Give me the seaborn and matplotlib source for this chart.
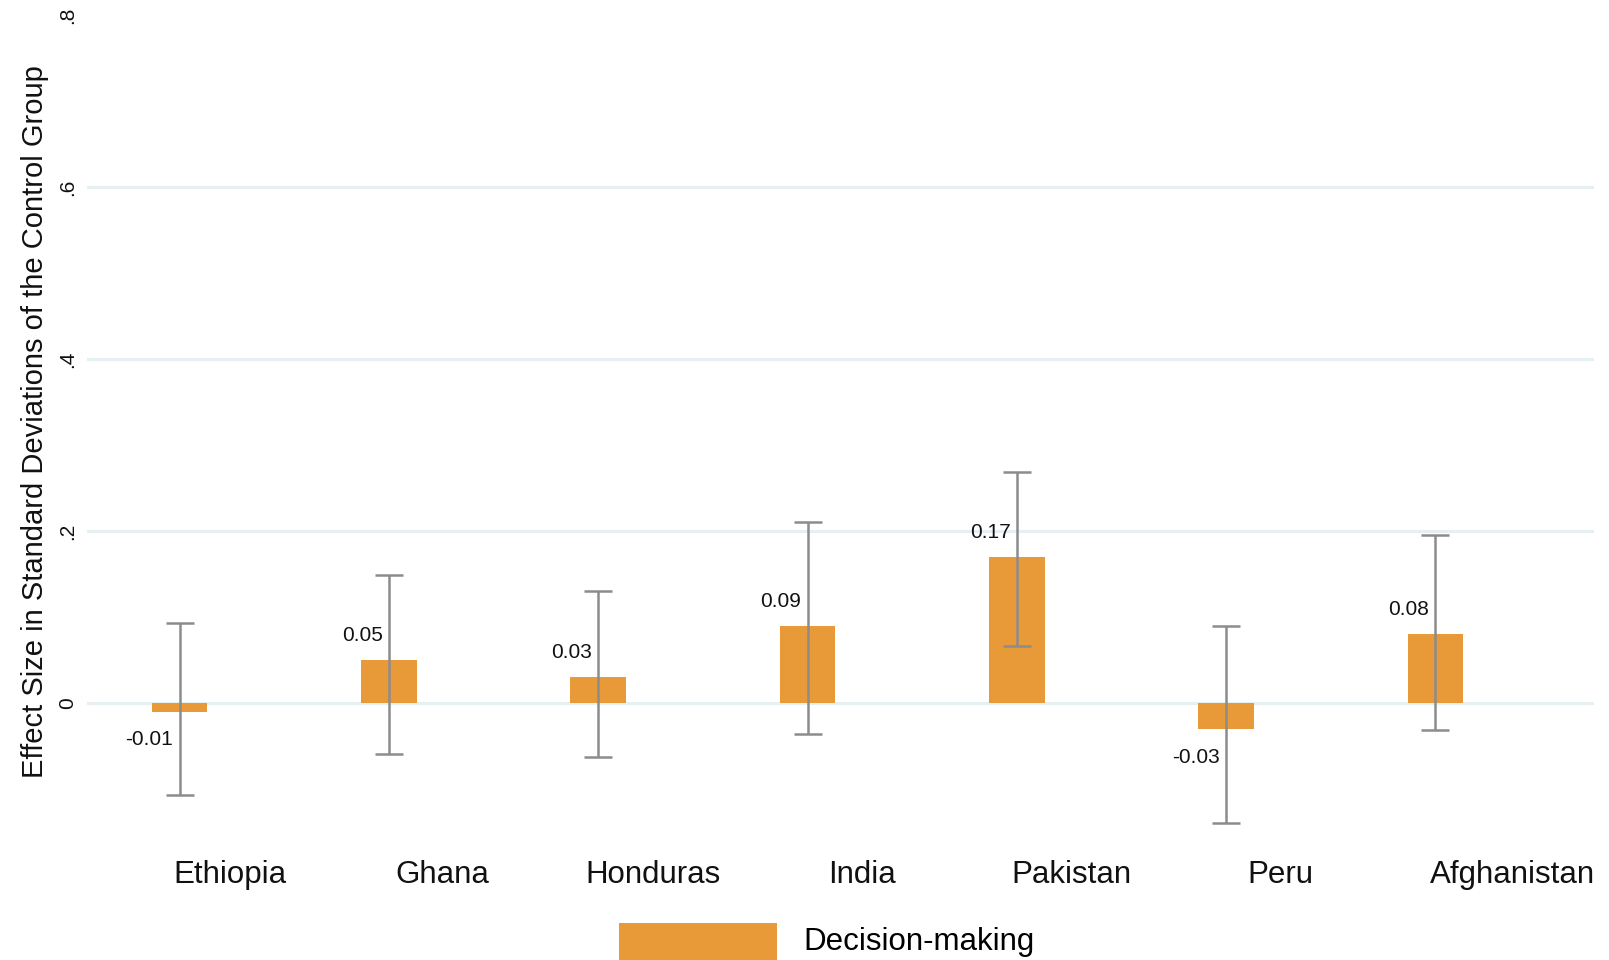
import matplotlib
matplotlib.use("Agg")
import matplotlib.pyplot as plt
from matplotlib.patches import Patch, Rectangle
from matplotlib.legend_handler import HandlerPatch
import seaborn as sns
import pandas as pd

# Country-level treatment effects on the decision-making index
countries = ["Ethiopia", "Ghana", "Honduras", "India", "Pakistan", "Peru", "Afghanistan"]
effect = [-0.01, 0.05, 0.03, 0.09, 0.17, -0.03, 0.08]
ci_low = [-0.107, -0.059, -0.063, -0.036, 0.066, -0.140, -0.031]
ci_high = [0.093, 0.149, 0.130, 0.210, 0.269, 0.089, 0.195]
y_ticks = [0, 0.2, 0.4, 0.6, 0.8]
y_tick_labels = ["0", ".2", ".4", ".6", ".8"]
series_name = "Decision-making"
y_title = "Effect Size in Standard Deviations of the Control Group"

BAR = "#E99A38"
ERR = "#8c8c8c"
GRID = "#e6eff1"
TXT = "#111111"

plt.rcParams["font.family"] = ["Liberation Sans", "DejaVu Sans"]

df = pd.DataFrame({"country": countries, "effect": effect,
                   "lo": ci_low, "hi": ci_high})

fig = plt.figure(figsize=(16.09, 9.6), dpi=100)
ax = fig.add_axes([0.0541, 0.1335, 0.9366, 0.8505])

sns.barplot(data=df, x="country", y="effect", order=countries, color=BAR,
            saturation=1, width=0.265, errorbar=None, ax=ax, zorder=2)

# confidence intervals
xs = list(range(len(countries)))
ax.errorbar(xs, df["effect"],
            yerr=[df["effect"] - df["lo"], df["hi"] - df["effect"]],
            fmt="none", ecolor=ERR, elinewidth=1.8, capsize=10,
            capthick=1.8, zorder=3)

# value labels to the left of each interval line
for x, v in zip(xs, df["effect"]):
    if v >= 0:
        ax.text(x - 0.03, v + 0.022, f"{v:.2f}", ha="right", va="baseline",
                fontsize=15, color=TXT, zorder=4)
    else:
        ax.text(x - 0.03, v - 0.022, f"{v:.2f}", ha="right", va="top",
                fontsize=15, color=TXT, zorder=4)

ax.set_xlim(-0.4424, 6.758)
ax.set_ylim(-0.15, 0.8)

# group labels sit to the right of each bar
label_shift = [0.24, 0.255, 0.26, 0.26, 0.26, 0.26, 0.37]
ax.set_xticks([x + s for x, s in zip(xs, label_shift)])
ax.set_xticklabels(countries, fontsize=22.5, color=TXT)
ax.tick_params(axis="x", length=0, pad=20.5)

ax.set_yticks(y_ticks)
ax.set_yticklabels(y_tick_labels, rotation=90, va="center", fontsize=15,
                   color=TXT)
ax.tick_params(axis="y", length=0, pad=6.8)

ax.yaxis.grid(True, color=GRID, linewidth=2.2, zorder=0)
ax.get_ygridlines()[-1].set_visible(False)
ax.xaxis.grid(False)
ax.set_axisbelow(True)

ax.set_xlabel("")
ax.set_ylabel(y_title, fontsize=21, color=TXT)
ax.yaxis.set_label_coords(-0.0254, 0.503)

for s in ax.spines.values():
    s.set_visible(False)


def tall_swatch(legend, orig_handle, xdescent, ydescent, width, height,
                fontsize):
    # swatch runs on below the text line, down past the page edge
    extra = 10
    return Rectangle((-xdescent, -ydescent - extra), width, height + extra)


LEG_FS = 22.5
fig.legend(handles=[Patch(facecolor=BAR, edgecolor="none", label=series_name)],
           handler_map={Patch: HandlerPatch(patch_func=tall_swatch)},
           loc="upper left", bbox_to_anchor=(619 / 1609, 1 - 923 / 960),
           frameon=False, fontsize=LEG_FS,
           handlelength=158 / (LEG_FS * 100 / 72), handleheight=1.25,
           handletextpad=0.85, borderpad=0, borderaxespad=0)

fig.savefig("out.png", dpi=100, facecolor="white")
